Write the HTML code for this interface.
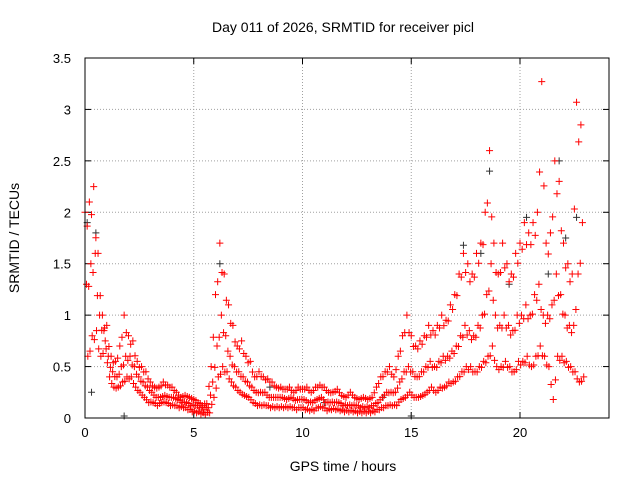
<!DOCTYPE html>
<html><head><meta charset="utf-8"><style>
body{margin:0;background:#fff;}
svg{display:block;font-family:"Liberation Sans",sans-serif;}
</style></head><body>
<svg id="chart" width="640" height="480">
<rect x="0" y="0" width="640" height="480" fill="#fff"/>
<text x="343" y="32" font-size="14" text-anchor="middle">Day 011 of 2026, SRMTID for receiver picl</text>
<text x="343" y="471" font-size="14" text-anchor="middle">GPS time / hours</text>
<text x="0" y="0" font-size="14" text-anchor="middle" transform="translate(19,238) rotate(-90)">SRMTID / TECUs</text>
<g id="grid"></g>
<g id="ticks"></g>
<g id="marks"></g>
<rect x="85" y="58" width="524" height="360" fill="none" stroke="#000" stroke-width="1"/>
</svg>
<script>
const xTicks=[0,5,10,15,20];
const yTicks=[0,0.5,1,1.5,2,2.5,3,3.5];
const yTickLabels=["0","0.5","1","1.5","2","2.5","3","3.5"];
const tStep=0.2;
const hi=[2.0,2.1,2.25,1.6,1.0,0.9,0.6,0.55,0.7,1.0,0.8,0.75,0.55,0.5,0.45,0.35,0.3,0.3,0.35,0.32,0.3,0.25,0.2,0.22,0.2,0.18,0.15,0.12,0.14,0.5,1.2,1.7,1.4,1.1,0.9,0.7,0.75,0.6,0.55,0.4,0.45,0.4,0.38,0.35,0.3,0.3,0.28,0.3,0.25,0.3,0.28,0.3,0.25,0.3,0.32,0.3,0.25,0.25,0.28,0.22,0.2,0.25,0.2,0.18,0.2,0.18,0.2,0.3,0.4,0.45,0.5,0.4,0.6,0.8,1.0,0.8,0.7,0.75,0.8,0.9,0.85,0.9,1.0,0.95,1.1,1.2,1.4,1.6,1.5,1.4,1.6,1.7,2.0,2.6,1.7,1.4,1.7,1.5,1.4,1.6,1.7,1.9,1.8,1.9,2.0,3.27,1.7,1.8,2.5,2.3,1.7,1.5,1.4,3.07,2.85];
const mid=[1.3,1.5,1.6,1.0,0.85,0.6,0.45,0.4,0.5,0.6,0.6,0.5,0.4,0.35,0.3,0.25,0.2,0.2,0.22,0.2,0.2,0.18,0.15,0.15,0.12,0.12,0.1,0.08,0.1,0.35,0.7,1.0,0.8,0.6,0.5,0.45,0.4,0.35,0.3,0.25,0.25,0.25,0.2,0.2,0.2,0.2,0.18,0.2,0.17,0.18,0.18,0.15,0.15,0.18,0.2,0.15,0.15,0.15,0.15,0.12,0.12,0.12,0.12,0.1,0.1,0.1,0.12,0.15,0.2,0.25,0.25,0.25,0.35,0.45,0.5,0.45,0.4,0.45,0.5,0.55,0.5,0.55,0.6,0.6,0.65,0.7,0.8,0.9,0.85,0.8,0.9,1.0,1.2,1.5,1.0,0.9,1.0,0.9,0.85,1.0,1.0,1.1,1.0,1.2,1.3,1.0,1.0,1.1,1.4,1.2,1.0,0.9,0.9,1.4,1.9];
const lo=[0.6,0.8,0.85,0.6,0.75,0.4,0.3,0.3,0.35,0.4,0.4,0.3,0.25,0.2,0.15,0.15,0.12,0.15,0.15,0.12,0.12,0.1,0.1,0.08,0.06,0.05,0.04,0.03,0.05,0.2,0.4,0.5,0.45,0.35,0.3,0.25,0.22,0.2,0.15,0.12,0.12,0.12,0.1,0.1,0.1,0.1,0.1,0.1,0.08,0.1,0.08,0.07,0.07,0.1,0.1,0.07,0.08,0.08,0.07,0.06,0.06,0.06,0.05,0.05,0.05,0.05,0.06,0.08,0.1,0.12,0.12,0.12,0.18,0.2,0.25,0.2,0.2,0.22,0.25,0.3,0.25,0.3,0.3,0.35,0.35,0.4,0.45,0.5,0.5,0.45,0.5,0.55,0.6,0.7,0.5,0.5,0.55,0.5,0.45,0.55,0.55,0.6,0.5,0.6,0.7,0.6,0.5,0.18,0.6,0.6,0.55,0.5,0.45,0.35,0.4];
const blkT=[0.1,0.3,0.5,1.8,6.2,8.5,11,13.7,15,17.4,18.2,18.6,19.5,20.3,21.3,21.8,22.1,22.6];
const blkV=[1.9,0.25,1.8,0.02,1.5,0.3,0.15,0.2,0.02,1.68,1.6,2.4,1.3,1.95,1.4,2.5,1.75,1.95];
const NS="http://www.w3.org/2000/svg";
const X=v=>85+v*21.75, Y=v=>418-v*102.86;
const grid=document.getElementById('grid'),ticks=document.getElementById('ticks'),marks=document.getElementById('marks');
function mk(tag,attrs,parent){const e=document.createElementNS(NS,tag);for(const k in attrs)e.setAttribute(k,attrs[k]);parent.appendChild(e);return e;}
xTicks.forEach(v=>{
 const gl=mk('line',{x1:X(v),x2:X(v),y1:58,y2:418,stroke:'#a0a0a0','stroke-dasharray':'1,2'},grid);
 
 
 mk('line',{x1:X(v),x2:X(v),y1:418,y2:412,stroke:'#000'},ticks);
 mk('line',{x1:X(v),x2:X(v),y1:58,y2:64,stroke:'#000'},ticks);
 const t=mk('text',{x:X(v),y:437,'font-size':13,'text-anchor':'middle'},ticks);t.textContent=v;
 
 
});
yTicks.forEach((v,i)=>{
 const gl=mk('line',{x1:85,x2:609,y1:Y(v),y2:Y(v),stroke:'#a0a0a0','stroke-dasharray':'1,2'},grid);
 
 
 mk('line',{x1:85,x2:91,y1:Y(v),y2:Y(v),stroke:'#000'},ticks);
 mk('line',{x1:603,x2:609,y1:Y(v),y2:Y(v),stroke:'#000'},ticks);
 const t=mk('text',{x:71,y:Y(v)+5,'font-size':13,'text-anchor':'end'},ticks);t.textContent=yTickLabels[i];
 
 
});
function plus(t,v,color){
 const x=X(t),y=Y(v);
 const p=mk('path',{d:`M${x-3.5} ${y}H${x+3.5}M${x} ${y-3.5}V${y+3.5}`,stroke:color,'stroke-width':1,fill:'none'},marks);
 
 
}
blkT.forEach((t,i)=>plus(t,blkV[i],'#333'));
[[hi,0],[mid,0.07],[lo,0.13]].forEach(([arr,off])=>arr.forEach((v,i)=>{
 plus(i*tStep+off,v,'#f00');
 if(i<arr.length-1) plus(i*tStep+off+0.1,(v+arr[i+1])/2*0.9+0.02,'#f00');
}));
</script>
</body></html>
